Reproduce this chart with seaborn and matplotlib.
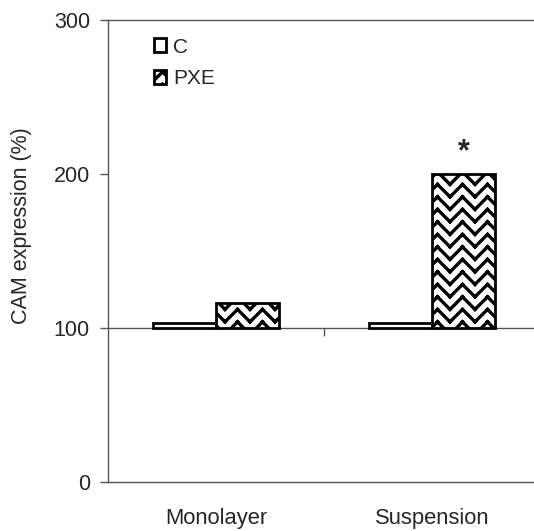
import warnings
warnings.filterwarnings("ignore")

import numpy as np
import pandas as pd
import matplotlib
matplotlib.use("Agg")
import matplotlib.pyplot as plt
import matplotlib.hatch as mhatch
from matplotlib.path import Path
from matplotlib.patches import Patch
import seaborn as sns

# ---- data ----
categories = ["Monolayer", "Suspension"]
groups = ["C", "PXE"]
c_values = [103, 103]
pxe_values = [116, 200]
baseline = 100
y_ticks = [0, 100, 200, 300]
y_label = "CAM expression (%)"
significance = ["", "*"]


# ---- zig-zag (herringbone-like) hatch pattern, drawn as separate segments ----
class ZigZagHatch(mhatch.HatchPatternBase):
    def __init__(self, hatch, density):
        self.n = int(round(hatch.count("z") * density * 2 / 3))
        self.rows = 2 * self.n + 1 if self.n else 0
        self.segs = 2 * self.n
        self.num_vertices = self.rows * self.segs * 2

    def set_vertices_and_codes(self, vertices, codes):
        if self.num_vertices == 0:
            return
        c = 1.0 / self.n
        px = np.arange(self.segs + 1) * c / 2
        bump = np.where(np.arange(self.segs + 1) % 2 == 1, c / 2, 0.0)
        idx = 0
        for k in range(-1, 2 * self.n):
            y0 = k * c / 2 + c / 8
            py = y0 + bump
            for s in range(self.segs):
                vertices[idx] = (px[s], py[s])
                vertices[idx + 1] = (px[s + 1], py[s + 1])
                codes[idx] = Path.MOVETO
                codes[idx + 1] = Path.LINETO
                idx += 2


mhatch._hatch_types.append(ZigZagHatch)

sns.set_style("white")
plt.rcParams["font.family"] = ["Liberation Sans", "DejaVu Sans"]
plt.rcParams["hatch.linewidth"] = 2.4
plt.rcParams["hatch.color"] = "black"

df = pd.DataFrame({
    "condition": categories * 2,
    "group": [groups[0]] * len(categories) + [groups[1]] * len(categories),
    "value": c_values + pxe_values,
})
df["height"] = df["value"] - baseline

fig = plt.figure(figsize=(5.34, 5.31), dpi=100)
ax = fig.add_axes([108 / 534, 49 / 531, 426 / 534, 462 / 531])

sns.barplot(data=df, x="condition", y="height", hue="group", order=categories,
            hue_order=groups, palette=["white", "white"], edgecolor="black",
            linewidth=2.0, width=0.58, errorbar=None, legend=False,
            bottom=baseline, ax=ax, zorder=3)

for bar in ax.containers[1]:
    bar.set_hatch("z")

ax.set_ylim(0, 300)
ax.set_xlim(-0.5, -0.5 + 426 / 216)
ax.set_yticks(y_ticks)
ax.set_ylabel(y_label, fontsize=15.5)
ax.yaxis.set_label_coords(-0.178, 0.554)
ax.set_xlabel("")
ax.tick_params(axis="y", which="both", left=True, direction="out", length=6,
               width=1, color="#555555", labelsize=15.5, pad=7)
ax.tick_params(axis="x", length=0, labelsize=15.8, pad=19)

for side in ["left", "top", "bottom"]:
    ax.spines[side].set_visible(True)
    ax.spines[side].set_color("#555555")
    ax.spines[side].set_linewidth(1.0)
ax.spines["right"].set_visible(False)

# category axis crossing at the baseline
sec = ax.secondary_xaxis(baseline / 300)
sec.set_xticks([0.5], labels=[""])
sec.tick_params(direction="out", length=6, width=1, color="#555555")
sec.spines["bottom"].set_color("#555555")
sec.spines["top"].set_color("#555555")
sec.spines["bottom"].set_linewidth(1.0)
sec.spines["top"].set_linewidth(1.0)

# significance marks
for i, (cat, mark) in enumerate(zip(categories, significance)):
    if mark:
        bar = ax.containers[1][i]
        ax.text(bar.get_x() + bar.get_width() / 2, pxe_values[i] + 9, mark,
                ha="center", va="baseline", fontsize=22, fontweight="bold")

handles = [Patch(facecolor="white", edgecolor="black", linewidth=2.0),
           Patch(facecolor="white", edgecolor="black", linewidth=2.0, hatch="z")]
ax.legend(handles, groups, loc="upper left", bbox_to_anchor=(0.108, 0.962),
          frameon=False, fontsize=15, handlelength=0.58, handleheight=0.62,
          handletextpad=0.33, labelspacing=0.62, borderpad=0, borderaxespad=0)

fig.savefig("out.png", dpi=100)
